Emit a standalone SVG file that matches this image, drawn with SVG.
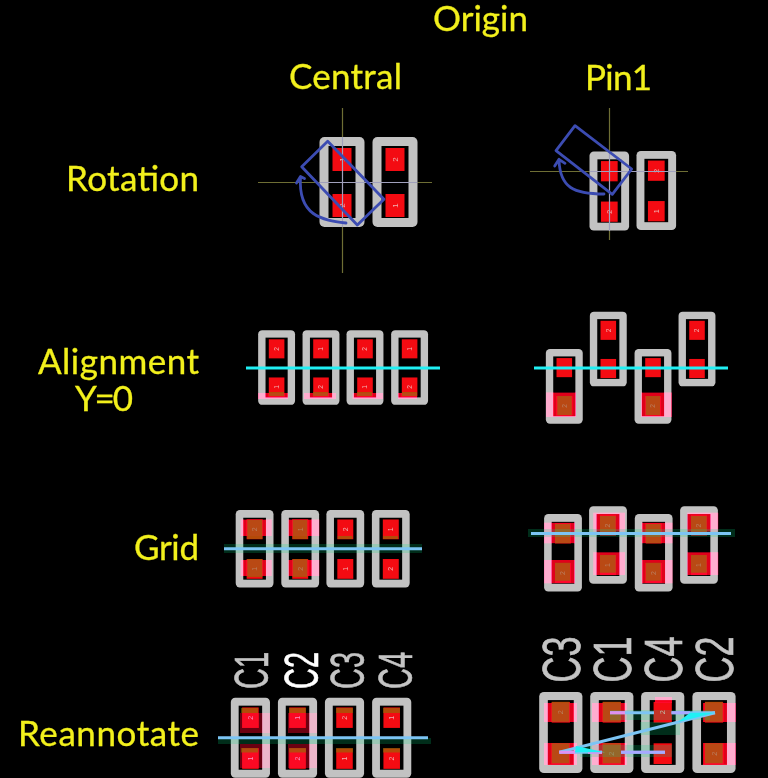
<svg xmlns="http://www.w3.org/2000/svg" width="768" height="778" viewBox="0 0 768 778">
<style>
.lb{font-family:Lato,"Liberation Sans",sans-serif;font-size:35px;fill:#f2f01c;stroke:#f2f01c;stroke-width:.3}
.ref{font-family:"Liberation Sans",sans-serif;font-size:50px;fill:#c4c4c4;stroke:#c4c4c4;stroke-width:.6}
.t{font-family:"Liberation Sans",sans-serif;font-size:8px;fill:#f0b0b0;text-anchor:middle;dominant-baseline:central}
.o{fill:#c2c2c2}.i{fill:#000}.p{fill:#f40b12}
.pk{fill:#ff5590;mix-blend-mode:overlay}.pd{fill:#700018;mix-blend-mode:screen}
.br{fill:#808000;opacity:.55}.gr{fill:#00e080;opacity:.2}
.cy{stroke:#20f0f4;stroke-width:3;fill:none}.bl{stroke:#7cc4f4;stroke-width:3;fill:none}.pu{stroke:#e090f0;stroke-width:3;fill:none}.vi{stroke:#a8a8ff;stroke-width:3;fill:none}
.x{stroke:#6e6e34;stroke-width:1.2;fill:none}.xg{stroke:#a0a0bc;stroke-width:1.2;fill:none}
.h{stroke:#3c4cb2;stroke-width:2.8;fill:none;stroke-linejoin:round;stroke-linecap:round}
</style>
<defs>
<g id="fp"><rect class="o" x="-22.5" y="-45" width="45" height="90" rx="5"/><rect class="i" x="-13.5" y="-36" width="27" height="72"/><rect class="p" x="-9.5" y="-34" width="19" height="23"/><rect class="p" x="-9.5" y="12" width="19" height="23"/></g>
<path id="a2l" d="M258,393H288V399H258ZM304,393H336V399H304ZM352.7,393H383V399H352.7ZM398,393H417V399H398Z"/>
<path id="a2r" d="M546,392.5H576V417H546ZM641,392.5H671.7V417H641Z"/>
<path id="a3l" d="M240.7,519.5H271.7V536H240.7ZM240.7,560H271.7V576H240.7ZM288.3,519.5H319.3V536H288.3ZM288.3,560H319.3V576H288.3Z"/>
<path id="a3r" d="M544,522.7H575V543.3H544ZM544,560H575V583.3H544ZM593.3,512.7H625V531.7H593.3ZM593.3,552.3H625V575H593.3ZM641.7,522.7H672.3V543.3H641.7ZM641.7,560H672.3V583.3H641.7ZM687.3,512.7H718.3V531.7H687.3ZM687.3,552.3H718.3V575H687.3Z"/>
<path id="a4l" d="M240,713H270V733H240ZM240,744H270V768H240ZM288,713H317V733H288ZM288,744H317V768H288Z"/>
<path id="a4r" d="M544,703H577V722H544ZM544,743H577V765H544ZM592,703H626.7V722H592ZM592,743H626.7V765H592ZM703,703H735.7V722H703ZM703,743H735.7V765H703ZM655,697H672V703H655Z"/>
</defs>
<rect width="768" height="778" fill="#000"/>
<g id="labels">
<text class="lb" x="433" y="31" textLength="95">Origin</text>
<text class="lb" x="289" y="89" textLength="113">Central</text>
<text class="lb" x="585" y="90" textLength="67">Pin1</text>
<text class="lb" x="66" y="191" textLength="133">Rotation</text>
<text class="lb" x="38" y="374" textLength="161">Alignment</text>
<text class="lb" x="75" y="411" textLength="58">Y=0</text>
<text class="lb" x="134" y="560" textLength="65">Grid</text>
<text class="lb" x="18" y="746" textLength="181">Reannotate</text>
</g>
<g id="row1-central">
<g id="r1c1" transform="translate(342,182)"><use href="#fp"/><text class="t" transform="translate(0,-22.5) rotate(-90)">1</text><text class="t" transform="translate(0,23.5) rotate(-90)">2</text></g>
<g id="r1c2" transform="translate(395,182)"><use href="#fp"/><text class="t" transform="translate(0,-22.5) rotate(-90)">2</text><text class="t" transform="translate(0,23.5) rotate(-90)">1</text></g>
<path class="x" d="M342.5,108V137M342.5,227V273M258,182.5H319.5M417.5,182.5H432"/>
<path class="xg" d="M342.5,137V227M319.5,182.5H417.5"/>
<path class="h" d="M327.7,141.3L301.7,166.7L357.3,225L384,199.3Z"/>
<path class="h" d="M346,223C322,220 298,216 300.5,177M296.5,183L300.5,176.5L304.5,178.5"/>
</g>
<g id="row1-pin1">
<g id="r1p1" transform="translate(609.3,191) scale(.88)"><use href="#fp"/><text class="t" transform="translate(0,23.5) rotate(-90)">2</text></g>
<g id="r1p2" transform="translate(656.3,190.5) scale(.88)"><use href="#fp"/><text class="t" transform="translate(0,-22.5) rotate(-90)">2</text><text class="t" transform="translate(0,23.5) rotate(-90)">1</text></g>
<path class="x" d="M609.5,108V152M609.5,231V240M530,171.5H589.5M676,171.5H688"/>
<path class="xg" d="M609.5,152V231M589.5,171.5H676"/>
<path class="h" d="M575,125.7L556,150.7L612.3,194.3L631.7,169Z"/>
<path class="h" d="M604,194C574,194 560,188 559,160M554.7,166L559,159.3L565,163.3"/>
</g>
<g id="row2-central">
<g id="r2c1" transform="translate(276.6,367.5) scale(.82,.83)"><use href="#fp"/><text class="t" transform="translate(0,-22.5) rotate(-90)">2</text><text class="t" transform="translate(0,23.5) rotate(-90)">1</text></g>
<g id="r2c2" transform="translate(321,367.5) scale(.82,.83)"><use href="#fp"/><text class="t" transform="translate(0,-22.5) rotate(-90)">1</text><text class="t" transform="translate(0,23.5) rotate(-90)">2</text></g>
<g id="r2c3" transform="translate(365,367.5) scale(.82,.83)"><use href="#fp"/><text class="t" transform="translate(0,-22.5) rotate(-90)">2</text><text class="t" transform="translate(0,23.5) rotate(-90)">1</text></g>
<g id="r2c4" transform="translate(409.6,367.5) scale(.82,.83)"><use href="#fp"/><text class="t" transform="translate(0,-22.5) rotate(-90)">1</text><text class="t" transform="translate(0,23.5) rotate(-90)">2</text></g>
<use href="#a2l" class="pd"/><use href="#a2l" class="pk"/>
<path class="br" d="M269,392H284V396H269ZM313,392H328V396H313ZM357,392H372V396H357ZM402,392H417V396H402Z"/>
<path class="cy" d="M246,368H440"/>
</g>
<g id="row2-pin1">
<g id="r2p1" transform="translate(564.3,386.3) scale(.82,.83)"><use href="#fp"/><text class="t" transform="translate(0,23.5) rotate(-90)">2</text></g>
<g id="r2p2" transform="translate(608.3,349) scale(.82,.83)"><use href="#fp"/><text class="t" transform="translate(0,-22.5) rotate(-90)">2</text></g>
<g id="r2p3" transform="translate(653,386.3) scale(.82,.83)"><use href="#fp"/><text class="t" transform="translate(0,23.5) rotate(-90)">2</text></g>
<g id="r2p4" transform="translate(697,349) scale(.82,.83)"><use href="#fp"/><text class="t" transform="translate(0,-22.5) rotate(-90)">2</text></g>
<use href="#a2r" class="pd"/><use href="#a2r" class="pk"/>
<path class="br" d="M557.3,396H571.7V415H557.3ZM645.7,396H660V415H645.7Z"/>
<path class="cy" d="M534,368H728"/>
</g>
<g id="row3-central">
<g id="r3c1" transform="translate(254.6,548.7) scale(.84,.86)"><use href="#fp"/><text class="t" transform="translate(0,-22.5) rotate(-90)">2</text><text class="t" transform="translate(0,23.5) rotate(-90)">1</text></g>
<g id="r3c2" transform="translate(300.2,548.7) scale(.84,.86)"><use href="#fp"/><text class="t" transform="translate(0,-22.5) rotate(-90)">1</text><text class="t" transform="translate(0,23.5) rotate(-90)">2</text></g>
<g id="r3c3" transform="translate(345.3,548.7) scale(.84,.86)"><use href="#fp"/><text class="t" transform="translate(0,-22.5) rotate(-90)">2</text><text class="t" transform="translate(0,23.5) rotate(-90)">1</text></g>
<g id="r3c4" transform="translate(390.8,548.7) scale(.84,.86)"><use href="#fp"/><text class="t" transform="translate(0,-22.5) rotate(-90)">1</text><text class="t" transform="translate(0,23.5) rotate(-90)">2</text></g>
<use href="#a3l" class="pd"/><use href="#a3l" class="pk"/>
<path class="br" d="M247.3,520H262.3V539H247.3ZM247.3,559H262.3V577H247.3ZM292.7,520H307.3V539H292.7ZM292.7,559H307.3V577H292.7ZM337.7,536H352.3V539H337.7ZM383,536H398V539H383Z"/>
<path class="gr" d="M224,544H422V553H224Z"/>
<path class="bl" d="M224,548.7H422"/>
</g>
<g id="row3-pin1">
<g id="r3p1" transform="translate(563,552.8) scale(.84,.86)"><use href="#fp"/><text class="t" transform="translate(0,23.5) rotate(-90)">2</text></g>
<g id="r3p2" transform="translate(608,545) scale(.84,.86)"><use href="#fp"/><text class="t" transform="translate(0,-22.5) rotate(-90)">2</text><text class="t" transform="translate(0,23.5) rotate(-90)">1</text></g>
<g id="r3p3" transform="translate(653.7,552.8) scale(.84,.86)"><use href="#fp"/><text class="t" transform="translate(0,23.5) rotate(-90)">2</text></g>
<g id="r3p4" transform="translate(699,545) scale(.84,.86)"><use href="#fp"/><text class="t" transform="translate(0,-22.5) rotate(-90)">2</text><text class="t" transform="translate(0,23.5) rotate(-90)">1</text></g>
<use href="#a3r" class="pd"/><use href="#a3r" class="pk"/>
<path class="br" d="M555,524H570V543.3H555ZM555,562.7H570V580.7H555ZM600,516H615.7V531.7H600ZM600,555H615.7V572.7H600ZM645.7,524H660.7V543.3H645.7ZM645.7,562.7H660.7V580.7H645.7ZM691,516H706.7V531.7H691ZM691,555H706.7V572.7H691Z"/>
<path class="gr" d="M528,529H735V537H528Z"/>
<path class="bl" d="M531,533.5H731"/>
</g>
<g id="row4-central">
<g id="r4c1" transform="translate(250.4,737.7) scale(.87,.89)"><use href="#fp"/><text class="t" transform="translate(0,-22.5) rotate(-90)">2</text><text class="t" transform="translate(0,23.5) rotate(-90)">1</text></g>
<g id="r4c2" transform="translate(297.5,737.7) scale(.87,.89)"><use href="#fp"/><text class="t" transform="translate(0,-22.5) rotate(-90)">1</text><text class="t" transform="translate(0,23.5) rotate(-90)">2</text></g>
<g id="r4c3" transform="translate(344.5,737.7) scale(.87,.89)"><use href="#fp"/><text class="t" transform="translate(0,-22.5) rotate(-90)">2</text><text class="t" transform="translate(0,23.5) rotate(-90)">1</text></g>
<g id="r4c4" transform="translate(391.7,737.7) scale(.87,.89)"><use href="#fp"/><text class="t" transform="translate(0,-22.5) rotate(-90)">1</text><text class="t" transform="translate(0,23.5) rotate(-90)">2</text></g>
<use href="#a4l" class="pd" opacity=".6"/><use href="#a4l" class="pk" opacity=".6"/>
<path class="br" d="M241,708H258V713H241ZM241,748H258V752.5H241ZM289,708H306V713H289ZM289,748H306V752.5H289ZM336,708H353V713H336ZM336,748H353V752.5H336ZM383,708H400V713H383ZM383,748H400V752.5H383Z"/>
<path class="gr" d="M218,738H431V744H218Z"/>
<path class="bl" d="M218,737.7H428"/>
<text class="ref" transform="translate(267.7,689) rotate(-90) scale(.58,.98)">C1</text>
<text class="ref" transform="translate(317.7,689) rotate(-90) scale(.58,.98)" style="fill:#fff;stroke:#fff">C2</text>
<text class="ref" transform="translate(364,689) rotate(-90) scale(.58,.98)">C3</text>
<text class="ref" transform="translate(411.7,689) rotate(-90) scale(.58,.98)">C4</text>
</g>
<g id="row4-pin1">
<g id="r4p1" transform="translate(560.8,732.5) scale(.96,.9)"><use href="#fp"/><text class="t" transform="translate(0,-22.5) rotate(-90)">2</text></g>
<g id="r4p2" transform="translate(611.8,732.5) scale(.96,.9)"><use href="#fp"/><text class="t" transform="translate(0,23.5) rotate(-90)">2</text></g>
<g id="r4p3" transform="translate(662.7,732.5) scale(.96,.9)"><use href="#fp"/><text class="t" transform="translate(0,-22.5) rotate(-90)">2</text></g>
<g id="r4p4" transform="translate(714,732.5) scale(.96,.9)"><use href="#fp"/><text class="t" transform="translate(0,23.5) rotate(-90)">2</text></g>
<use href="#a4r" class="pd"/><use href="#a4r" class="pk"/>
<path class="br" d="M551.7,701.7H569.3V721.7H551.7ZM551.7,743.3H569.3V763.3H551.7ZM602.7,701.7H620.7V721.7H602.7ZM602.7,743.3H620.7V763.3H602.7ZM705,701.7H722.7V721.7H705ZM705,743.3H722.7V763.3H705Z"/>
<path class="gr" d="M610,710H710V720H610ZM580,745H672V757H580ZM640,722H680V735H640Z"/>
<text class="ref" transform="translate(580,682.5) rotate(-90) scale(.72,1.06)">C3</text>
<text class="ref" transform="translate(631,682.5) rotate(-90) scale(.72,1.06)">C1</text>
<text class="ref" transform="translate(682,682.5) rotate(-90) scale(.72,1.06)">C4</text>
<text class="ref" transform="translate(733,682.5) rotate(-90) scale(.72,1.06)">C2</text>
</g>
<g id="connectors">
<path class="bl" d="M610,712.7H654M671.5,712.7H715M559.3,752.3H602M621,752.3H665"/>
<path class="bl" d="M715,712.7L559.3,752.3"/>
<path class="pu" d="M610,712.7H625M559.3,752.3H575M602,752.3H588"/>
<path class="vi" d="M621,752.3H665M671.5,712.7H690"/>
<path d="M690,712.7L715,712.7L678,722Z" fill="#20f0f4"/>
<path d="M575,752.3L605,752.3L576,746Z" fill="#20f0f4"/>
</g>
</svg>
